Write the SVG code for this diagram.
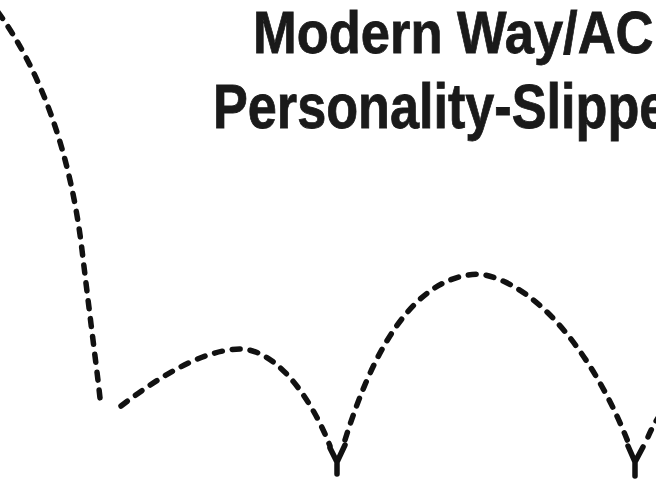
<svg xmlns="http://www.w3.org/2000/svg" width="656" height="487" viewBox="0 0 656 487">
<style>
.t{font-family:"Liberation Sans",Arial,sans-serif;font-weight:bold;font-size:60px;fill:#1a1a1a;stroke:#1a1a1a;stroke-width:0.8}
.d{fill:none;stroke:#111;stroke-width:5.5;stroke-linecap:round;stroke-dasharray:8 10}
.s{fill:none;stroke:#111;stroke-width:5.5;stroke-linecap:round;stroke-linejoin:round}
</style>
<rect width="656" height="487" fill="#fff"/>
<g id="title">
<text class="t" transform="translate(253,53) scale(0.875,1.0)">Modern Way/AC</text>
<text class="t" transform="translate(213,128) scale(0.87,1.04)">Personality-Slippe</text>
</g>
<g id="curve">
<path class="d" d="M -2,12 C 40,70 70,150 82,250 C 94,350 97,370 100,398"/>
<path class="d" d="M 121,406 C 155,380 200,350 240,349 C 275,349 310,395 330,446"/>
<path class="s" d="M 330,448 L 337,462 L 337,474 M 345,445 L 337,462"/>
<path class="d" d="M 345,440 C 370,360 410,275 480,274 C 545,285 600,370 628,442"/>
<path class="s" d="M 628,446 L 635,462 L 635,476 M 643,447 L 635,462"/>
<path class="d" d="M 648,437 C 651,430 654,424 660,415"/>
</g>
</svg>
